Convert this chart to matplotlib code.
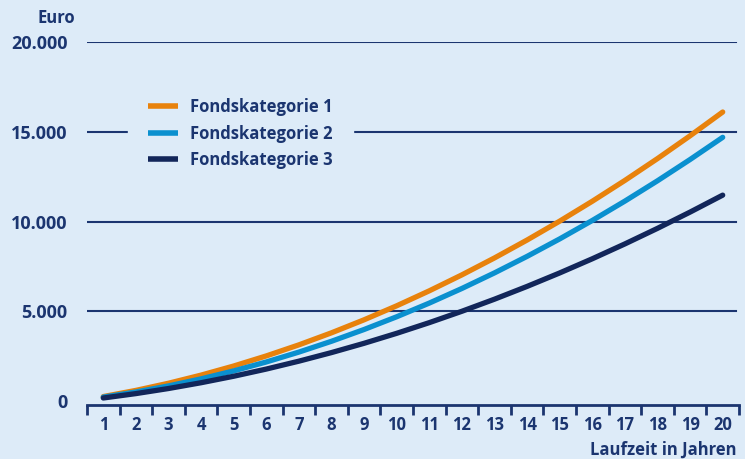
import numpy as np
import matplotlib.pyplot as plt
from matplotlib.ticker import FixedLocator

# Laufzeit in Jahren
jahre = list(range(1, 21))

# Werte in Euro
fonds1 = [250, 594, 992, 1445, 1952, 2514, 3130, 3801, 4526, 5306,
          6140, 7029, 7972, 8970, 10022, 11129, 12290, 13506, 14776, 16100]
fonds2 = [220, 506, 844, 1236, 1680, 2177, 2727, 3330, 3986, 4695,
          5457, 6271, 7139, 8059, 9032, 10059, 11138, 12270, 13455, 14690]
fonds3 = [170, 415, 698, 1021, 1382, 1782, 2222, 2700, 3217, 3773,
          4368, 5001, 5674, 6386, 7136, 7925, 8753, 9620, 10526, 11470]

namen = ['Fondskategorie 1', 'Fondskategorie 2', 'Fondskategorie 3']
farben = ['#e8820c', '#0a90cf', '#12265a']

y_ticks = [0, 5000, 10000, 15000, 20000]
y_labels = ['0', '5.000', '10.000', '15.000', '20.000']

bg = '#ddebf8'
navy = '#1b3570'

plt.rcParams['font.family'] = ['Open Sans', 'DejaVu Sans']
plt.rcParams['font.weight'] = 'bold'

fig = plt.figure(figsize=(7.45, 4.59), dpi=100, facecolor=bg)
ax = fig.add_axes([87/745, 54/459, 652/745, 363/459], facecolor=bg)

for werte, name, farbe in zip([fonds1, fonds2, fonds3], namen, farben):
    ax.plot(jahre, werte, color=farbe, lw=3.8, solid_capstyle='round',
            label=name, zorder=3)

ax.set_xlim(0.5, 20.5)
ax.set_ylim(-220, 20000)

# horizontal grid lines
for yv in y_ticks[1:]:
    ax.plot([0.5, 20.4], [yv, yv], color=navy, lw=1.5, zorder=1)

ax.set_xticks(jahre)
ax.set_xticklabels([str(j) for j in jahre])
ax.xaxis.set_minor_locator(FixedLocator(np.arange(0.5, 21, 1)))
ax.tick_params(axis='x', which='major', length=0, pad=8, labelsize=12,
               labelcolor=navy)
ax.tick_params(axis='x', which='minor', length=7, width=2, color=navy,
               direction='out')

ax.set_yticks(y_ticks)
ax.set_yticklabels(y_labels)
ax.tick_params(axis='y', length=0, pad=14, labelsize=13, labelcolor=navy)

for s in ['top', 'right', 'left']:
    ax.spines[s].set_visible(False)
ax.spines['bottom'].set_color(navy)
ax.spines['bottom'].set_linewidth(2)

leg = ax.legend(loc='upper left', bbox_to_anchor=(33/652, 1 - 28/363),
                frameon=True, facecolor=bg, edgecolor=bg, framealpha=1,
                fancybox=False, handlelength=1.8, handletextpad=0.72,
                labelspacing=0.5, borderpad=1.2, fontsize=12)
for t in leg.get_texts():
    t.set_color(navy)
    t.set_fontweight('bold')
for h in leg.get_lines():
    h.set_solid_capstyle('butt')
    h.set_linewidth(4)
leg.set_zorder(2)

fig.text(75/745, 1 - 18/459, 'Euro', ha='right', va='center', color=navy,
         fontsize=12, fontweight='bold')
fig.text(737/745, 1 - 450/459, 'Laufzeit in Jahren', ha='right',
         va='center', color=navy, fontsize=12, fontweight='bold')

fig.savefig('out.png', dpi=100, facecolor=bg)
